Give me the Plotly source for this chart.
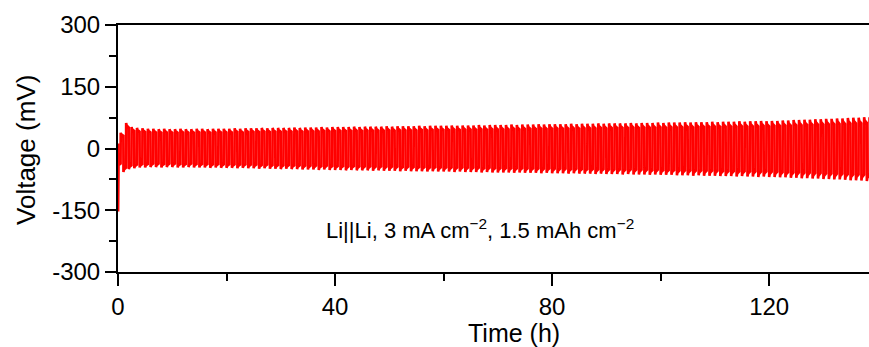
import plotly.graph_objects as go

# Galvanostatic cycling of a Li||Li symmetric cell, 3 mA cm-2 / 1.5 mAh cm-2
# -> each half-cycle lasts 0.5 h, one full cycle = 1 h
period_h = 1.0
ocv_mv = 12
first_spike_mv = -153

# peak overpotential of the positive half of every cycle (mV)
upper_mv = [
    38, 62, 52, 50, 49, 48, 48, 47, 48, 47,
    47, 48, 47, 47, 48, 48, 47, 48, 48, 48,
    48, 49, 48, 49, 49, 49, 50, 49, 50, 50,
    50, 50, 51, 50, 51, 51, 51, 52, 51, 52,
    52, 52, 52, 53, 52, 53, 53, 53, 53, 54,
    53, 54, 54, 54, 54, 55, 54, 55, 55, 55,
    55, 56, 55, 56, 56, 56, 57, 56, 57, 57,
    57, 57, 58, 57, 58, 58, 58, 59, 58, 59,
    59, 59, 59, 60, 59, 60, 60, 60, 61, 60,
    61, 61, 61, 61, 62, 61, 62, 62, 62, 63,
    62, 63, 63, 63, 64, 63, 64, 64, 64, 65,
    64, 65, 65, 65, 66, 65, 66, 66, 67, 66,
    67, 67, 68, 68, 69, 69, 70, 70, 71, 71,
    72, 72, 73, 73, 74, 75, 75, 76, 76,
]

# peak overpotential of the negative half of every cycle (mV)
lower_mv = [
    -45, -57, -50, -48, -46, -46, -45, -45, -46, -45,
    -45, -46, -46, -45, -46, -46, -46, -47, -46, -47,
    -47, -47, -48, -47, -48, -48, -49, -48, -49, -49,
    -50, -49, -50, -50, -51, -51, -51, -52, -51, -52,
    -52, -52, -53, -52, -53, -53, -53, -54, -53, -54,
    -54, -54, -55, -54, -55, -55, -55, -56, -55, -56,
    -56, -56, -57, -56, -57, -57, -57, -58, -57, -58,
    -58, -58, -58, -59, -58, -59, -59, -59, -60, -59,
    -60, -60, -60, -61, -60, -61, -61, -61, -62, -61,
    -62, -62, -62, -63, -62, -63, -63, -63, -64, -63,
    -64, -64, -64, -65, -65, -65, -66, -65, -66, -66,
    -66, -67, -67, -67, -68, -67, -68, -68, -69, -68,
    -69, -69, -70, -70, -71, -71, -72, -72, -73, -73,
    -74, -74, -75, -75, -76, -77, -77, -78, -79,
]

# shape of one half-cycle: time offset (h) and fraction of its peak value
profile_dt = [0.0, 0.1, 0.48]
profile_k = [1.0, 0.9, 0.82]

x_ticks = [0, 40, 80, 120]
x_minor = [20, 60, 100]
y_ticks = [-300, -150, 0, 150, 300]
y_tick_text = ["-300", "-150", "0", "150", "300"]
y_minor = [-225, -75, 75, 225]

t = [0.0, 0.02]
v = [ocv_mv, first_spike_mv]
for i, (lo, hi) in enumerate(zip(lower_mv, upper_mv)):
    t0 = i * period_h
    for half, peak in ((0.0, lo), (0.5 * period_h, hi)):
        for dt, k in zip(profile_dt, profile_k):
            if i == 0 and half == 0.0 and dt == 0.0:
                continue
            t.append(t0 + half + dt)
            v.append(peak * k)

fig = go.Figure()
fig.add_trace(go.Scatter(
    x=t, y=v, mode="lines",
    line=dict(color="#ff0000", width=2.6),
    showlegend=False, hoverinfo="skip",
))

font = "Liberation Sans, Arial, sans-serif"
axis_common = dict(
    showline=True, linecolor="black", linewidth=2,
    ticks="outside", tickcolor="black", tickwidth=2,
    showgrid=False, zeroline=False,
    tickfont=dict(family=font, size=24, color="black"),
)

fig.update_layout(
    width=869, height=347,
    margin=dict(l=118, r=0, t=25, b=75),
    paper_bgcolor="white", plot_bgcolor="white",
    xaxis=dict(
        range=[0, 138.4], tickvals=x_ticks, ticklen=12, mirror=True,
        minor=dict(tickvals=x_minor, ticks="outside", ticklen=7,
                   tickwidth=2, tickcolor="black"),
        **axis_common,
    ),
    yaxis=dict(
        range=[-300, 300], tickvals=y_ticks, ticktext=y_tick_text,
        ticklen=11, ticklabelstandoff=0,
        minor=dict(tickvals=y_minor, ticks="outside", ticklen=7,
                   tickwidth=2, tickcolor="black"),
        **axis_common,
    ),
    annotations=[
        dict(text="Voltage (mV)", xref="paper", yref="paper",
             x=-0.1225, y=0.494, textangle=-90, showarrow=False,
             xanchor="center", yanchor="middle",
             font=dict(family=font, size=26, color="black")),
        dict(text="Time (h)", xref="paper", yref="paper",
             x=0.527, y=-0.247, showarrow=False,
             xanchor="center", yanchor="middle",
             font=dict(family=font, size=25, color="black")),
        dict(text="Li||Li, 3 mA cm<sup>\u22122</sup>, 1.5 mAh cm<sup>\u22122</sup>",
             xref="paper", yref="paper", x=0.482, y=0.174, showarrow=False,
             xanchor="center", yanchor="middle",
             font=dict(family=font, size=22, color="black")),
    ],
)

fig.write_html("out.html")
